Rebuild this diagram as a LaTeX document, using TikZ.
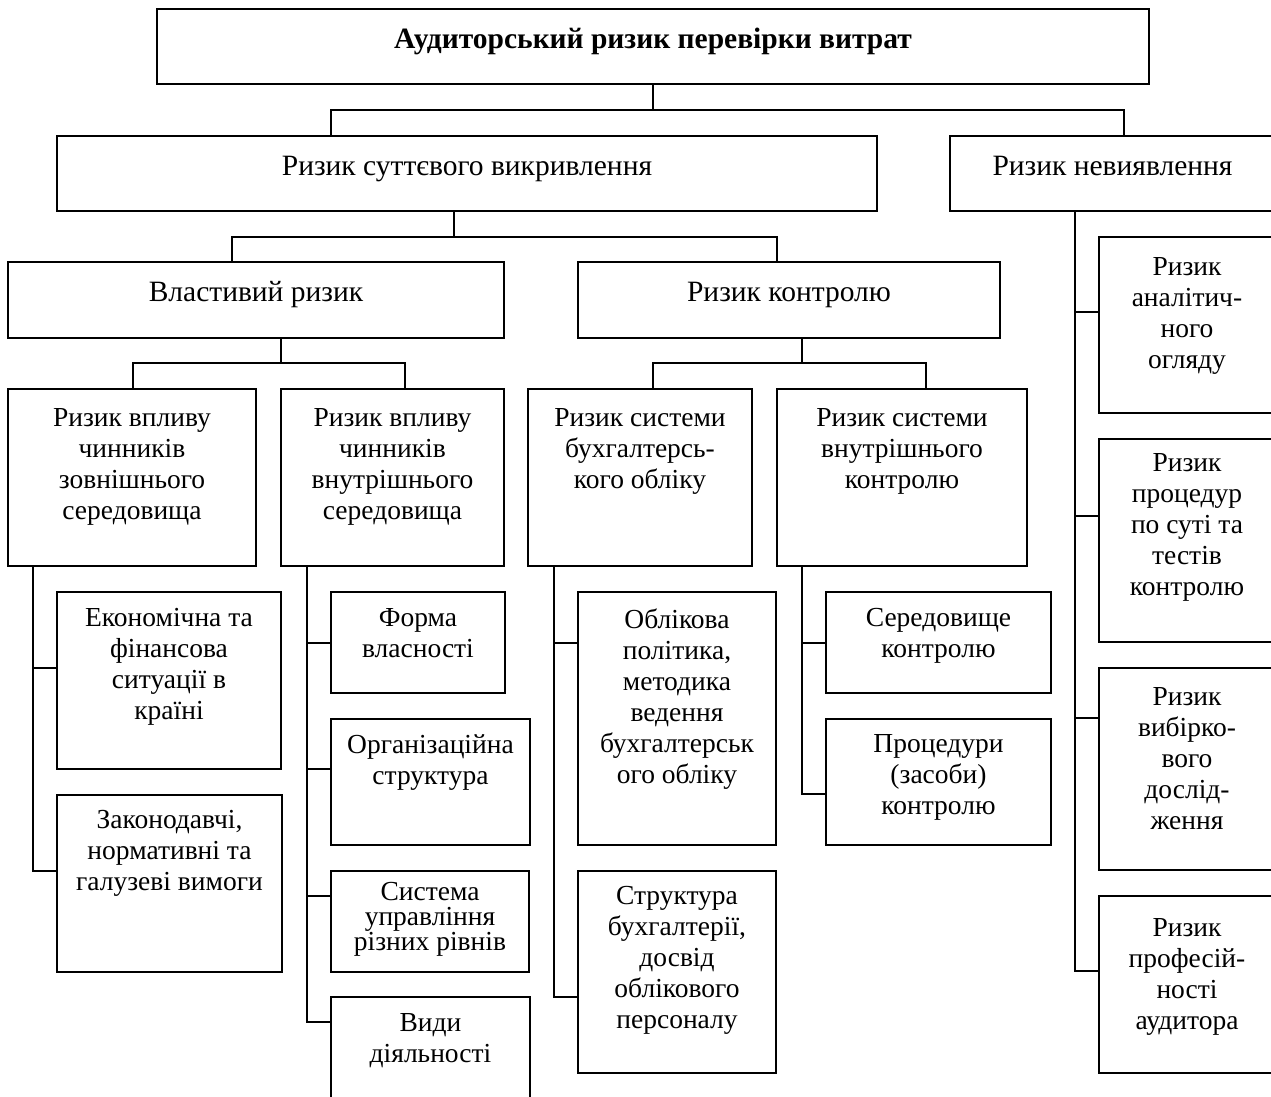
\documentclass[tikz,border=0pt]{standalone}
\usepackage{fontspec}
\setmainfont{Liberation Serif}
\usetikzlibrary{calc,positioning}

\tikzset{
  riskbox/.style={draw, line width=1.8pt, anchor=north west, inner sep=0pt, outer sep=0pt},
  risktext/.style={anchor=north, align=center, inner sep=0pt,
    font=\fontsize{27.5}{31}\selectfont, execute at begin node={\rule{0pt}{21pt}}},
  bigtext/.style={risktext, font=\fontsize{29.5}{33}\selectfont},
  link/.style={line width=1.8pt}
}

\begin{document}
\begin{tikzpicture}[x=1pt,y=-1pt]
  \useasboundingbox (0,0) rectangle (1271,1097);
  \clip (0,0) rectangle (1271,1097);
  % boxes: name / left / top / right / bottom
  \foreach \name/\xa/\ya/\xb/\yb in {audit/157/9/1149/84, sutt/57/136/877/211, nev/950/136/1275/211,
      vlast/8/262/504/338, kontr/578/262/1000/338,
      zovn/8/389/256/566, vnutr/281/389/504/566, buh/528/389/752/566, vk/777/389/1027/566,
      econ/57/592/281/769, zak/57/795/282/972,
      forma/331/592/505/693, org/331/719/530/845, sys/331/871/529/972, vydy/331/997/530/1130,
      obl/578/592/776/845, strukt/578/871/776/1073,
      sered/826/592/1051/693, proc/826/719/1051/845,
      ra/1099/237/1275/413, rb/1099/439/1275/642, rc/1099/668/1275/870, rd/1099/896/1275/1073}
    \node[riskbox, minimum width=\xb-\xa, minimum height=\yb-\ya] (\name) at (\xa,\ya) {};

  % texts
  \node[bigtext] (audit-t) at ([yshift=-18pt]audit.north) {\textbf{Аудиторський ризик перевірки витрат}};
  \node[bigtext] (sutt-t) at ([yshift=-18pt]sutt.north) {Ризик суттєвого викривлення};
  \node[bigtext] (nev-t) at ([yshift=-18pt]nev.north) {Ризик невиявлення};
  \node[bigtext] (vlast-t) at ([yshift=-18pt]vlast.north) {Властивий ризик};
  \node[bigtext] (kontr-t) at ([yshift=-18pt]kontr.north) {Ризик контролю};
  \node[risktext] (zovn-t) at ([yshift=-19pt]zovn.north) {Ризик впливу\\чинників\\зовнішнього\\середовища};
  \node[risktext] (vnutr-t) at ([yshift=-19pt]vnutr.north) {Ризик впливу\\чинників\\внутрішнього\\середовища};
  \node[risktext] (buh-t) at ([yshift=-19pt]buh.north) {Ризик системи\\бухгалтерсь-\\кого обліку};
  \node[risktext] (vk-t) at ([yshift=-19pt]vk.north) {Ризик системи\\внутрішнього\\контролю};
  \node[risktext] (econ-t) at ([yshift=-16pt]econ.north) {Економічна та\\фінансова\\ситуації в\\країні};
  \node[risktext] (zak-t) at ([yshift=-15pt]zak.north) {Законодавчі,\\нормативні та\\галузеві вимоги};
  \node[risktext] (forma-t) at ([yshift=-16pt]forma.north) {Форма\\власності};
  \node[risktext] (org-t) at ([yshift=-15pt]org.north) {Організаційна\\структура};
  \node[risktext, font=\fontsize{27.5}{25}\selectfont] (sys-t) at ([yshift=-11pt]sys.north) {Система\\управління\\різних рівнів};
  \node[risktext] (vydy-t) at ([yshift=-16pt]vydy.north) {Види\\діяльності};
  \node[risktext] (obl-t) at ([yshift=-17pt]obl.north) {Облікова\\політика,\\методика\\ведення\\бухгалтерськ\\ого обліку};
  \node[risktext] (strukt-t) at ([yshift=-15pt]strukt.north) {Структура\\бухгалтерії,\\досвід\\облікового\\персоналу};
  \node[risktext] (sered-t) at ([yshift=-16pt]sered.north) {Середовище\\контролю};
  \node[risktext] (proc-t) at ([yshift=-15pt]proc.north) {Процедури\\(засоби)\\контролю};
  \node[risktext] (ra-t) at ([yshift=-20pt]ra.north) {Ризик\\аналітич-\\ного\\огляду};
  \node[risktext] (rb-t) at ([yshift=-14pt]rb.north) {Ризик\\процедур\\по суті та\\тестів\\контролю};
  \node[risktext] (rc-t) at ([yshift=-19pt]rc.north) {Ризик\\вибірко-\\вого\\дослід-\\ження};
  \node[risktext] (rd-t) at ([yshift=-22pt]rd.north) {Ризик\\професій-\\ності\\аудитора};

  % upper levels
  \draw[link] (audit.south) -- (audit.south |- 0,110) coordinate (j0);
  \draw[link] (sutt.north -| 331,0) |- (j0) -| (nev.north -| 1124,0);
  \draw[link] (sutt.south -| 454,0) -- (454,237) coordinate (j1);
  \draw[link] (vlast.north -| 232,0) |- (j1) -| (kontr.north -| 777,0);
  \draw[link] (vlast.south -| 281,0) -- (281,363) coordinate (j2);
  \draw[link] (zovn.north -| 133,0) |- (j2) -| (vnutr.north -| 405,0);
  \draw[link] (kontr.south -| 802,0) -- (802,363) coordinate (j3);
  \draw[link] (buh.north -| 653,0) |- (j3) -| (vk.north -| 926,0);

  % side trunks
  \draw[link] (zovn.south -| 33,0) |- (zak.west |- 0,871);
  \draw[link] (33,668) -- (econ.west |- 0,668);
  \draw[link] (vnutr.south -| 307,0) |- (vydy.west |- 0,1022);
  \foreach \n/\y in {forma/643, org/769, sys/896}
    \draw[link] (307,\y) -- (\n.west |- 0,\y);
  \draw[link] (buh.south -| 554,0) |- (strukt.west |- 0,997);
  \draw[link] (554,643) -- (obl.west |- 0,643);
  \draw[link] (vk.south -| 802,0) |- (proc.west |- 0,794);
  \draw[link] (802,643) -- (sered.west |- 0,643);
  \draw[link] (nev.south -| 1075,0) |- (rd.west |- 0,971);
  \foreach \n/\y in {ra/312, rb/516, rc/718}
    \draw[link] (1075,\y) -- (\n.west |- 0,\y);
\end{tikzpicture}
\end{document}
